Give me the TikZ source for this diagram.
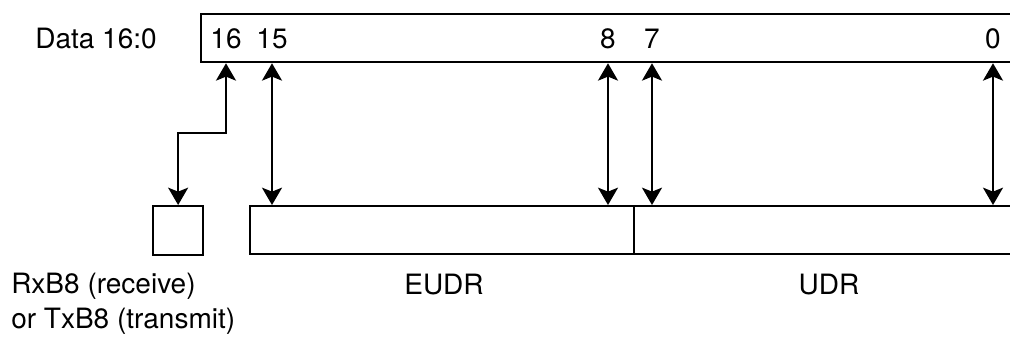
\documentclass[tikz,border=0pt]{standalone}
\usepackage{fontspec}
\setmainfont{TeX Gyre Heros}
\usetikzlibrary{arrows.meta}

\begin{document}
\begin{tikzpicture}[x=0.75pt,y=-0.75pt]
    \tikzset{
        regbox/.style={draw,line width=1.7pt,inner sep=0pt,anchor=north west},
        bitarrow/.style={line width=1.7pt,
            {Stealth[length=13pt,width=15pt,inset=3pt]}-{Stealth[length=13pt,width=15pt,inset=3pt]}},
        lbl/.style={font=\fontsize{21}{24}\selectfont,inner sep=0pt}
    }
    \useasboundingbox (0,0) rectangle (1010,337);

    % registers
    \node[regbox,minimum width=622.5pt,minimum height=36pt] (data) at (200,13) {};
    \node[regbox,minimum width=37.5pt,minimum height=36.75pt] (rxb) at (152,205) {};
    \node[regbox,minimum width=288pt,minimum height=36pt] (eudr) at (249,205) {};
    \node[regbox,minimum width=300pt,minimum height=36pt] (udr) at (633,205) {};

    % labels
    \node[lbl] (dlabel) at (96,38) {Data 16:0};
    \node[lbl] (b16) at (226,39) {16};
    \node[lbl] (b15) at (272,39) {15};
    \node[lbl] (b8) at (608,39) {8};
    \node[lbl] (b7) at (652,39) {7};
    \node[lbl] (b0) at (993,39) {0};
    \node[lbl,align=left,anchor=north west] (rxlabel) at (11,273)
        {RxB8 (receive)\\[2pt]or TxB8 (transmit)};
    \node[lbl] (eulabel) at (444,285) {EUDR};
    \node[lbl] (ulabel) at (829,285) {UDR};

    % bit connections
    \coordinate (elbow) at (177,133);
    \draw[bitarrow] (b16 |- data.south) |- (elbow) -| (rxb.north);
    \draw[bitarrow] (b15 |- data.south) -- (b15 |- eudr.north);
    \draw[bitarrow] (b8 |- data.south) -- (b8 |- eudr.north);
    \draw[bitarrow] (b7 |- data.south) -- (b7 |- udr.north);
    \draw[bitarrow] (b0 |- data.south) -- (b0 |- udr.north);
\end{tikzpicture}
\end{document}
